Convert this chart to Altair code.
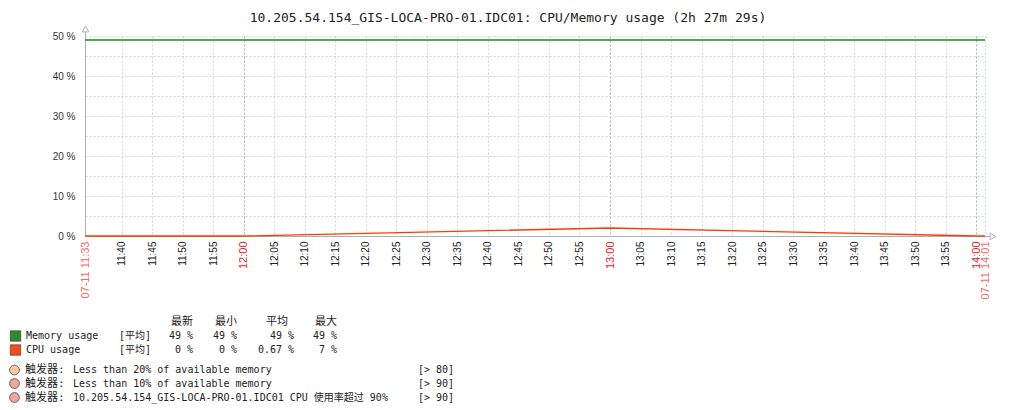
import altair as alt
import pandas as pd

# ---------------- data ----------------
TITLE = "10.205.54.154_GIS-LOCA-PRO-01.IDC01: CPU/Memory usage (2h 27m 29s)"
DAY = (2024, 7, 11)
range_start = "11:33:58"
range_end = "14:01:27"

point_times = ["11:33:58", "12:00:00", "13:00:00", "14:00:00", "14:01:27"]
memory_usage = [49, 49, 49, 49, 49]
cpu_usage = [0, 0, 2, 0, 0]

tick_labels = ["11:40", "11:45", "11:50", "11:55", "12:00", "12:05", "12:10", "12:15",
               "12:20", "12:25", "12:30", "12:35", "12:40", "12:45", "12:50", "12:55",
               "13:00", "13:05", "13:10", "13:15", "13:20", "13:25", "13:30", "13:35",
               "13:40", "13:45", "13:50", "13:55", "14:00"]
y_ticks = [0, 5, 10, 15, 20, 25, 30, 35, 40, 45, 50]

series_names = ["Memory usage", "CPU usage"]
series_colors = ["#1b8a1b", "#ff3c00"]
swatch_colors = ["#2f8a2f", "#f24d1f"]
stat_headers = ["最新", "最小", "平均", "最大"]
stat_func = "[平均]"
stat_latest = [49, 0]
stat_min = [49, 0]
stat_avg = [49, 0.67]
stat_max = [49, 7]

trigger_prefix = "触发器:"
trigger_names = ["Less than 20% of available memory",
                 "Less than 10% of available memory",
                 "10.205.54.154_GIS-LOCA-PRO-01.IDC01 CPU 使用率超过 90%"]
trigger_levels = ["[> 80]", "[> 90]", "[> 90]"]
trigger_colors = ["#ffc8a0", "#f0a99c", "#f0a99c"]

# ---------------- layout constants ----------------
L, T, W, H = 85, 36, 900, 200
MONO = "DejaVu Sans Mono, Noto Sans CJK SC"
CJK = "Noto Sans CJK SC"
AXIS_FONT = "Liberation Sans"
AXIS_GRAY = "#a9b1b7"


def iso(hms):
    return "%04d-%02d-%02dT%s" % (DAY[0], DAY[1], DAY[2], hms)


def dt(hms):
    parts = [int(p) for p in hms.split(":")]
    while len(parts) < 3:
        parts.append(0)
    return alt.DateTime(year=DAY[0], month=DAY[1], date=DAY[2],
                        hours=parts[0], minutes=parts[1], seconds=parts[2])


rows = []
for t, m, c in zip(point_times, memory_usage, cpu_usage):
    rows.append({"time": iso(t), "series": series_names[0], "value": m})
    rows.append({"time": iso(t), "series": series_names[1], "value": c})
df = pd.DataFrame(rows)

x_values = [dt(range_start)] + [dt(s) for s in tick_labels] + [dt(range_end)]

x_axis = alt.Axis(
    values=x_values,
    title=None,
    labelExpr="seconds(datum.value) > 0 ? timeFormat(datum.value, '%m-%d  %H:%M') : timeFormat(datum.value, '%H:%M')",
    labelAngle=270,
    labelAlign="right",
    labelBaseline="middle",
    labelPadding=5,
    labelFont=AXIS_FONT,
    labelFontSize={"condition": {"test": "minutes(datum.value) == 0 || seconds(datum.value) > 0", "value": 11}, "value": 10},
    labelColor={"condition": [
        {"test": "seconds(datum.value) > 0", "value": "#ef6b6b"},
        {"test": "minutes(datum.value) == 0", "value": "#e5262e"}],
        "value": "#222222"},
    labelOverlap=False,
    labelFlush=False,
    labelBound=False,
    ticks=False,
    domainColor=AXIS_GRAY,
    grid=True,
    gridDash=[2, 2],
    gridColor={"condition": {"test": "minutes(datum.value) == 0 && seconds(datum.value) == 0", "value": "#a2afb9"}, "value": "#cdd5db"},
)

y_axis = alt.Axis(
    values=y_ticks,
    title=None,
    labelExpr="datum.value % 10 == 0 ? datum.value + '  %' : ''",
    labelFont=AXIS_FONT,
    labelFontSize=10,
    labelColor="#333333",
    labelPadding=10,
    ticks=False,
    domainColor=AXIS_GRAY,
    grid=True,
    gridDash=[2, 2],
    gridColor="#cdd5db",
)

lines = alt.Chart(df).mark_line(strokeWidth=1.3).encode(
    x=alt.X("time:T", scale=alt.Scale(domain=[dt(range_start), dt(range_end)]), axis=x_axis),
    y=alt.Y("value:Q", scale=alt.Scale(domain=[0, 50], nice=False), axis=y_axis),
    color=alt.Color("series:N", scale=alt.Scale(domain=series_names, range=series_colors), legend=None),
    order=alt.Order("time:T"),
)

dummy = pd.DataFrame({"k": [0]})

# axis arrows
arrow_up_line = alt.Chart(dummy).mark_rule(color=AXIS_GRAY).encode(
    x=alt.value(0.5), y=alt.value(-8), y2=alt.value(0))
arrow_up = alt.Chart(dummy).mark_point(shape="triangle-up", size=45, filled=True,
                                       fill="white", stroke=AXIS_GRAY, strokeWidth=1, opacity=1).encode(
    x=alt.value(0.5), y=alt.value(-7))
arrow_right_line = alt.Chart(dummy).mark_rule(color=AXIS_GRAY).encode(
    x=alt.value(W), x2=alt.value(W + 8), y=alt.value(H + 0.5))
arrow_right = alt.Chart(dummy).mark_point(shape="triangle-right", size=45, filled=True,
                                          fill="white", stroke=AXIS_GRAY, strokeWidth=1, opacity=1).encode(
    x=alt.value(W + 8), y=alt.value(H + 0.5))

layers = [lines, arrow_up_line, arrow_up, arrow_right_line, arrow_right]


def txt(label, px, py, align="left", size=10, font=MONO, color="#222222"):
    return alt.Chart(pd.DataFrame({"t": [label]})).mark_text(
        align=align, baseline="middle", font=font, fontSize=size, color=color
    ).encode(text="t:N", x=alt.value(px - L), y=alt.value(py - T))


# legend: stats table
header_x = [193, 237, 288, 337]
value_x = [193, 237, 294, 337]
for hdr, hx in zip(stat_headers, header_x):
    layers.append(txt(hdr, hx, 322, align="right", size=11, font=CJK))

row_y = [336, 350]


def fmt(v):
    return ("%g" % v) + " %"


for i, name in enumerate(series_names):
    y = row_y[i]
    sw = alt.Chart(pd.DataFrame({"c": [swatch_colors[i]]})).mark_square(
        size=110, opacity=1, stroke="#333333", strokeWidth=0.6
    ).encode(x=alt.value(15.5 - L), y=alt.value(y - T),
             color=alt.Color("c:N", scale=None))
    layers.append(sw)
    layers.append(txt(name, 26, y))
    layers.append(txt(stat_func, 119, y))
    vals = [stat_latest[i], stat_min[i], stat_avg[i], stat_max[i]]
    for v, vx in zip(vals, value_x):
        layers.append(txt(fmt(v), vx, y, align="right"))

# legend: triggers
trig_y = [370, 383.5, 397.5]
for i, name in enumerate(trigger_names):
    y = trig_y[i]
    circ = alt.Chart(pd.DataFrame({"c": [trigger_colors[i]]})).mark_circle(
        size=95, opacity=1, stroke="#444444", strokeWidth=0.8
    ).encode(x=alt.value(14.5 - L), y=alt.value(y - T),
             color=alt.Color("c:N", scale=None))
    layers.append(circ)
    layers.append(txt(trigger_prefix, 25, y, size=11))
    layers.append(txt(name, 73, y))
    layers.append(txt(trigger_levels[i], 418, y))

chart = alt.layer(*layers).properties(
    width=W,
    height=H,
    padding={"left": L, "top": T, "right": 1016 - L - W, "bottom": 410 - T - H},
    autosize=alt.AutoSizeParams(type="none"),
    title=alt.Title(TITLE, font="DejaVu Sans Mono", fontSize=13, fontWeight="normal",
                    color="#222222", anchor="middle", frame="group", dx=-27, dy=5, offset=4),
    background="white",
).configure_view(strokeWidth=0)

chart.save("out.html", embed_options={"renderer": "svg", "actions": False})
